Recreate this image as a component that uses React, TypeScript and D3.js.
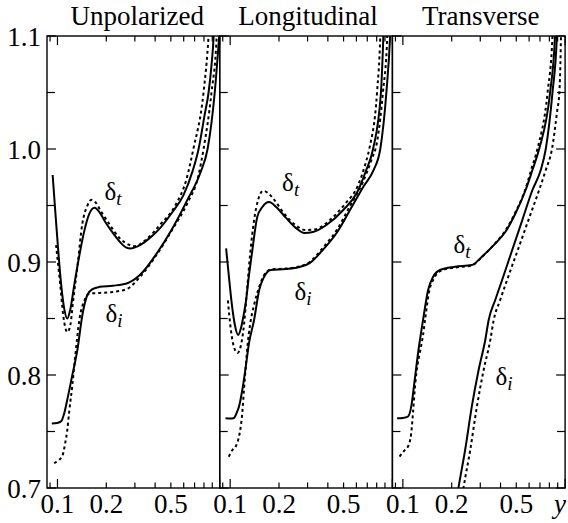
import React from 'react';
import * as d3 from 'd3';

type Pt = [number, number];

const panelTitles = ['Unpolarized', 'Longitudinal', 'Transverse'];
const xTickValues = [0.09, 0.1, 0.2, 0.3, 0.4, 0.5, 0.6, 0.7, 0.8, 0.9, 1.0];
const xMajorTicks = [0.1, 1.0];
const xLabelValues = [0.1, 0.2, 0.5];
const yTickValues = [0.7, 0.75, 0.8, 0.85, 0.9, 0.95, 1.0, 1.05, 1.1];
const yLabelValues = [0.7, 0.8, 0.9, 1.0, 1.1];
const axisVariable = 'y';

// Unpolarized
const unpolDtSolid: Pt[] = [
  [0.0934, 0.977], [0.0968, 0.946], [0.101, 0.911], [0.1054, 0.88], [0.11, 0.859], [0.1149, 0.85],
  [0.12, 0.858], [0.127, 0.88], [0.1365, 0.906], [0.1466, 0.928], [0.1575, 0.943], [0.1692, 0.948],
  [0.1818, 0.944], [0.198, 0.935], [0.219, 0.926], [0.242, 0.918], [0.264, 0.913], [0.283, 0.912],
  [0.314, 0.914], [0.362, 0.92], [0.429, 0.93], [0.51, 0.944], [0.597, 0.959], [0.679, 0.98],
  [0.741, 1.0], [0.807, 1.03], [0.854, 1.05], [0.89, 1.074], [0.918, 1.1], [0.93, 1.12],
];
const unpolDtDotted: Pt[] = [
  [0.098, 0.915], [0.104, 0.88], [0.1085, 0.853], [0.115, 0.838], [0.12, 0.844], [0.125, 0.866],
  [0.133, 0.897], [0.142, 0.933], [0.153, 0.95], [0.162, 0.955], [0.171, 0.953], [0.187, 0.944],
  [0.21, 0.933], [0.242, 0.921], [0.279, 0.915], [0.3, 0.914], [0.346, 0.919], [0.429, 0.933],
  [0.532, 0.95], [0.623, 0.973], [0.688, 1.0], [0.795, 1.05], [0.854, 1.1], [0.87, 1.12],
];
const unpolDiSolid: Pt[] = [
  [0.0923, 0.757], [0.0996, 0.7575], [0.1054, 0.759], [0.11, 0.766], [0.1149, 0.778], [0.1235, 0.8],
  [0.1326, 0.822], [0.1424, 0.853], [0.153, 0.871], [0.1645, 0.876], [0.1818, 0.878], [0.219, 0.879],
  [0.267, 0.881], [0.322, 0.8885], [0.411, 0.908], [0.517, 0.931], [0.632, 0.955], [0.76, 0.979],
  [0.842, 1.0], [0.932, 1.05], [0.993, 1.1],
];
const unpolDiDotted: Pt[] = [
  [0.0954, 0.722], [0.1025, 0.725], [0.107, 0.728], [0.1117, 0.74], [0.1149, 0.751], [0.118, 0.767],
  [0.1235, 0.791], [0.129, 0.818], [0.1365, 0.849], [0.1466, 0.866], [0.1575, 0.872], [0.1818, 0.8726],
  [0.219, 0.8735], [0.267, 0.876], [0.322, 0.8867], [0.411, 0.907], [0.517, 0.93], [0.632, 0.952],
  [0.741, 0.977], [0.795, 1.0], [0.89, 1.05], [0.958, 1.1], [0.97, 1.12],
];

// Longitudinal
const longDtSolid: Pt[] = [
  [0.0944, 0.912], [0.098, 0.8885], [0.1025, 0.862], [0.107, 0.844], [0.112, 0.8354], [0.1166, 0.8416],
  [0.121, 0.853], [0.1247, 0.8637], [0.1307, 0.8885], [0.137, 0.9106], [0.147, 0.94], [0.158, 0.9487],
  [0.174, 0.953], [0.192, 0.9487], [0.221, 0.939], [0.255, 0.93], [0.287, 0.9257], [0.324, 0.9265],
  [0.392, 0.9327], [0.498, 0.946], [0.603, 0.961], [0.688, 0.981], [0.76, 1.0], [0.85, 1.05],
  [0.88, 1.1], [0.89, 1.12],
];
const longDtDotted: Pt[] = [
  [0.0968, 0.866], [0.101, 0.84], [0.1054, 0.825], [0.111, 0.8195], [0.1166, 0.8265], [0.1216, 0.844],
  [0.127, 0.875], [0.1326, 0.906], [0.1404, 0.937], [0.1487, 0.955], [0.1598, 0.963], [0.171, 0.961],
  [0.187, 0.955], [0.216, 0.9425], [0.2526, 0.9327], [0.292, 0.9283], [0.3366, 0.929], [0.411, 0.937],
  [0.51, 0.9513], [0.615, 0.968], [0.679, 0.986], [0.72, 1.0], [0.804, 1.05], [0.842, 1.1], [0.85, 1.12],
];
const longDiSolid: Pt[] = [
  [0.0936, 0.7617], [0.101, 0.7615], [0.1054, 0.762], [0.11, 0.767], [0.1133, 0.772], [0.1188, 0.7867],
  [0.1247, 0.807], [0.1307, 0.8283], [0.1404, 0.8487], [0.151, 0.8752], [0.162, 0.887], [0.178, 0.893],
  [0.221, 0.8938], [0.268, 0.8956], [0.309, 0.899], [0.372, 0.9106], [0.4528, 0.9257], [0.548, 0.946],
  [0.662, 0.9666], [0.764, 0.981], [0.842, 1.0], [0.918, 1.05], [0.968, 1.1], [0.98, 1.12],
];
const longDiDotted: Pt[] = [
  [0.098, 0.7277], [0.1032, 0.7336], [0.108, 0.7365], [0.1133, 0.7454], [0.1166, 0.7558], [0.1188, 0.7664],
  [0.1216, 0.7867], [0.1247, 0.807], [0.128, 0.8265], [0.1326, 0.8442], [0.1404, 0.862], [0.151, 0.878],
  [0.162, 0.8885], [0.178, 0.8934], [0.221, 0.8942], [0.268, 0.896], [0.309, 0.9], [0.372, 0.9124],
  [0.4528, 0.928], [0.548, 0.9496], [0.654, 0.97], [0.741, 0.99], [0.808, 1.008], [0.874, 1.05],
  [0.93, 1.1], [0.94, 1.12],
];

// Transverse
const transDtSolid: Pt[] = [
  [0.0922, 0.7617], [0.1, 0.762], [0.1074, 0.7631], [0.1126, 0.772], [0.1183, 0.7956], [0.124, 0.8192],
  [0.1294, 0.8372], [0.1332, 0.8487], [0.1431, 0.8752], [0.1537, 0.887], [0.1692, 0.8929], [0.21, 0.8958],
  [0.266, 0.8973], [0.307, 0.9047], [0.372, 0.9165], [0.429, 0.9268], [0.495, 0.9431], [0.571, 0.9637],
  [0.629, 0.9814], [0.692, 1.0], [0.808, 1.05], [0.8665, 1.1], [0.875, 1.12],
];
const transDtDotted: Pt[] = [
  [0.0954, 0.7277], [0.1014, 0.7327], [0.1074, 0.7365], [0.1126, 0.7484], [0.1154, 0.7664], [0.1193, 0.7927],
  [0.1231, 0.8088], [0.127, 0.8192], [0.1332, 0.8354], [0.137, 0.8487], [0.145, 0.8735], [0.156, 0.8858],
  [0.17, 0.892], [0.21, 0.8951], [0.266, 0.8969], [0.307, 0.9044], [0.372, 0.9168], [0.429, 0.9279],
  [0.495, 0.9442], [0.571, 0.965], [0.617, 0.9814], [0.675, 1.0], [0.78, 1.05], [0.836, 1.1], [0.845, 1.12],
];
const transDiSolid: Pt[] = [
  [0.2166, 0.6938], [0.2199, 0.6997], [0.242, 0.7336], [0.266, 0.772], [0.293, 0.8044], [0.322, 0.831],
  [0.338, 0.8487], [0.371, 0.8664], [0.409, 0.8841], [0.472, 0.9106], [0.545, 0.9372], [0.629, 0.9637],
  [0.708, 0.9814], [0.76, 1.0], [0.836, 1.05], [0.89, 1.1], [0.9, 1.12],
];
const transDiDotted: Pt[] = [
  [0.2329, 0.6938], [0.2363, 0.6997], [0.2601, 0.7336], [0.286, 0.772], [0.3147, 0.8044], [0.346, 0.831],
  [0.3631, 0.8487], [0.398, 0.8664], [0.439, 0.8841], [0.5196, 0.9135], [0.615, 0.9431], [0.692, 0.9637],
  [0.76, 0.9814], [0.83, 1.0], [0.895, 1.0345], [0.922, 1.05], [0.943, 1.1], [0.948, 1.12],
];

// label anchor points [x, y, subscript]
const unpolLabels: [number, number, string][] = [[0.195, 0.955, 't'], [0.198, 0.847, 'i']];
const longLabels: [number, number, string][] = [[0.209, 0.963, 't'], [0.249, 0.866, 'i']];
const transLabels: [number, number, string][] = [[0.205, 0.9077, 't'], [0.372, 0.791, 'i']];

const panels = [
  { title: panelTitles[0], solid: [unpolDtSolid, unpolDiSolid], dotted: [unpolDtDotted, unpolDiDotted], labels: unpolLabels },
  { title: panelTitles[1], solid: [longDtSolid, longDiSolid], dotted: [longDtDotted, longDiDotted], labels: longLabels },
  { title: panelTitles[2], solid: [transDtSolid, transDiSolid], dotted: [transDtDotted, transDiDotted], labels: transLabels },
];

const W = 568;
const H = 523;
const TOP = 36;
const BOTTOM = 488;
const LEFT0 = 47;
const PW = 172.7;
const FONT = '"Liberation Serif"';

export default function App() {
  const y = d3.scaleLinear().domain([0.7, 1.1]).range([BOTTOM, TOP]);
  const fmt = d3.format('.1f');
  const ts = { fontFamily: FONT };
  return (
    <svg width={W} height={H} style={{ position: 'absolute', left: 0, top: 0, background: '#fff' }}>
      <rect x={0} y={0} width={W} height={H} fill="#fff" />
      {panels.map((p, i) => {
        const L = LEFT0 + i * PW;
        const R = L + PW;
        const last = i === panels.length - 1;
        const x = d3.scaleLog().domain([0.0862, 1.0]).range([L, R]);
        const line = d3
          .line<Pt>()
          .x((d) => x(d[0]))
          .y((d) => y(d[1]))
          .curve(d3.curveMonotoneX);
        const clipId = `clip-${i}`;
        return (
          <g key={i}>
            <defs>
              <clipPath id={clipId}>
                <rect x={L} y={TOP} width={PW} height={BOTTOM - TOP} />
              </clipPath>
            </defs>
            <text x={(L + R) / 2 + (i === 0 ? 4 : 2)} y={25} fontSize={27} textAnchor="middle" style={ts}>
              {p.title}
            </text>
            <g clipPath={`url(#${clipId})`}>
              {p.solid.map((s, k) => (
                <path key={'s' + k} d={line(s) || ''} fill="none" stroke="#000" strokeWidth={2} />
              ))}
              {p.dotted.map((s, k) => (
                <path key={'d' + k} d={line(s) || ''} fill="none" stroke="#000" strokeWidth={2} strokeDasharray="3,3" />
              ))}
            </g>
            {p.labels.map(([lx, ly, sub], k) => (
              <text key={'l' + k} x={x(lx)} y={y(ly)} fontSize={25} style={ts}>
                δ
                <tspan fontStyle="italic" fontSize={19} dy={5}>
                  {sub}
                </tspan>
              </text>
            ))}
            <rect x={L} y={TOP} width={PW} height={BOTTOM - TOP} fill="none" stroke="#000" strokeWidth={1.4} />
            {xTickValues.map((t) => {
              const len = xMajorTicks.includes(t) ? 9 : 5.5;
              return (
                <g key={'xt' + t}>
                  <line x1={x(t)} x2={x(t)} y1={BOTTOM} y2={BOTTOM - len} stroke="#000" strokeWidth={1.2} />
                  <line x1={x(t)} x2={x(t)} y1={TOP} y2={TOP + len} stroke="#000" strokeWidth={1.2} />
                </g>
              );
            })}
            {xLabelValues.map((t) => (
              <text key={'xl' + t} x={x(t)} y={513} fontSize={27} textAnchor="middle" style={ts}>
                {String(t)}
              </text>
            ))}
            {yTickValues.map((t) => {
              const len = yLabelValues.includes(t) ? 9 : 8;
              return (
                <g key={'yt' + t}>
                  <line x1={L} x2={L + len} y1={y(t)} y2={y(t)} stroke="#000" strokeWidth={1.2} />
                  {last && <line x1={R} x2={R - len} y1={y(t)} y2={y(t)} stroke="#000" strokeWidth={1.2} />}
                </g>
              );
            })}
          </g>
        );
      })}
      {yLabelValues.map((t) => (
        <text key={'yl' + t} x={41} y={y(t) + 10} fontSize={27} textAnchor="end" style={ts}>
          {fmt(t)}
        </text>
      ))}
      <text x={554} y={513} fontSize={27} fontStyle="italic" style={ts}>
        {axisVariable}
      </text>
    </svg>
  );
}
